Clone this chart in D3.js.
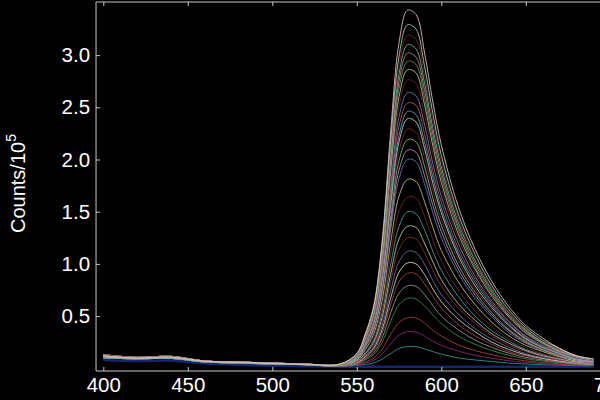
<!DOCTYPE html>
<html>
<head>
<meta charset="utf-8">
<script src="https://cdn.jsdelivr.net/npm/d3@7"></script>
<style>
    html, body { margin: 0; padding: 0; background: #000; }
</style>
</head>
<body>
<div id="spectra_chart"></div>
<script>
// wavelength (nm) of every sample
const wavelengths = [400, 420, 440, 460, 480, 500, 520, 540, 550, 555, 560, 565, 570, 575,
    580, 585, 590, 595, 600, 610, 620, 630, 640, 650, 660, 670, 680, 690];

// counts / 10^5, one row per spectrum (top peak first)
const spectra = [
    [0.12, 0.10, 0.11, 0.07, 0.06, 0.05, 0.04, 0.04, 0.14, 0.33, 0.60, 1.22, 2.26, 3.12, 3.43, 3.39, 3.03, 2.55, 2.14, 1.55, 1.14, 0.83, 0.59, 0.41, 0.29, 0.19, 0.12, 0.09],
    [0.11, 0.095, 0.10, 0.065, 0.055, 0.045, 0.035, 0.04, 0.14, 0.32, 0.58, 1.18, 2.17, 2.99, 3.29, 3.25, 2.90, 2.44, 2.04, 1.48, 1.09, 0.79, 0.56, 0.39, 0.27, 0.19, 0.12, 0.09],
    [0.13, 0.105, 0.115, 0.07, 0.06, 0.05, 0.04, 0.04, 0.13, 0.31, 0.56, 1.14, 2.10, 2.90, 3.19, 3.15, 2.81, 2.37, 1.98, 1.44, 1.05, 0.77, 0.54, 0.38, 0.26, 0.18, 0.12, 0.08],
    [0.10, 0.09, 0.095, 0.06, 0.05, 0.04, 0.035, 0.04, 0.13, 0.30, 0.55, 1.11, 2.04, 2.82, 3.10, 3.06, 2.74, 2.30, 1.93, 1.40, 1.03, 0.75, 0.53, 0.37, 0.25, 0.18, 0.11, 0.08],
    [0.12, 0.10, 0.11, 0.07, 0.06, 0.05, 0.04, 0.04, 0.13, 0.29, 0.54, 1.08, 1.99, 2.75, 3.02, 2.98, 2.67, 2.24, 1.88, 1.36, 1.00, 0.73, 0.51, 0.36, 0.25, 0.17, 0.11, 0.08],
    [0.11, 0.095, 0.10, 0.065, 0.055, 0.045, 0.035, 0.03, 0.12, 0.29, 0.52, 1.05, 1.94, 2.68, 2.94, 2.91, 2.60, 2.18, 1.83, 1.33, 0.97, 0.71, 0.50, 0.35, 0.24, 0.17, 0.11, 0.08],
    [0.13, 0.105, 0.115, 0.07, 0.06, 0.05, 0.04, 0.03, 0.12, 0.28, 0.51, 1.02, 1.89, 2.60, 2.86, 2.83, 2.53, 2.13, 1.78, 1.29, 0.95, 0.69, 0.49, 0.34, 0.24, 0.16, 0.11, 0.08],
    [0.10, 0.09, 0.095, 0.06, 0.05, 0.04, 0.035, 0.03, 0.12, 0.27, 0.49, 0.99, 1.82, 2.51, 2.76, 2.73, 2.44, 2.05, 1.72, 1.25, 0.92, 0.67, 0.47, 0.33, 0.23, 0.16, 0.10, 0.08],
    [0.12, 0.10, 0.11, 0.07, 0.06, 0.05, 0.04, 0.03, 0.11, 0.26, 0.47, 0.95, 1.74, 2.41, 2.64, 2.61, 2.34, 1.96, 1.65, 1.20, 0.88, 0.64, 0.45, 0.31, 0.22, 0.15, 0.10, 0.07],
    [0.11, 0.095, 0.10, 0.065, 0.055, 0.045, 0.035, 0.03, 0.11, 0.25, 0.45, 0.91, 1.68, 2.32, 2.54, 2.52, 2.25, 1.89, 1.59, 1.15, 0.85, 0.62, 0.44, 0.30, 0.21, 0.15, 0.10, 0.07],
    [0.13, 0.105, 0.115, 0.07, 0.06, 0.05, 0.04, 0.03, 0.11, 0.24, 0.44, 0.88, 1.62, 2.23, 2.46, 2.43, 2.17, 1.83, 1.53, 1.11, 0.82, 0.60, 0.42, 0.29, 0.20, 0.14, 0.09, 0.07],
    [0.10, 0.09, 0.095, 0.06, 0.05, 0.04, 0.035, 0.03, 0.10, 0.24, 0.43, 0.86, 1.57, 2.17, 2.39, 2.36, 2.11, 1.77, 1.49, 1.08, 0.79, 0.58, 0.41, 0.28, 0.20, 0.14, 0.09, 0.07],
    [0.12, 0.10, 0.11, 0.07, 0.06, 0.05, 0.04, 0.03, 0.10, 0.23, 0.41, 0.82, 1.51, 2.08, 2.29, 2.26, 2.02, 1.70, 1.43, 1.04, 0.76, 0.56, 0.39, 0.27, 0.19, 0.13, 0.09, 0.07],
    [0.11, 0.095, 0.10, 0.065, 0.055, 0.045, 0.035, 0.03, 0.10, 0.22, 0.39, 0.79, 1.44, 1.99, 2.19, 2.17, 1.94, 1.63, 1.37, 0.99, 0.73, 0.53, 0.37, 0.26, 0.18, 0.13, 0.09, 0.06],
    [0.13, 0.105, 0.115, 0.07, 0.06, 0.05, 0.04, 0.03, 0.09, 0.21, 0.38, 0.75, 1.38, 1.90, 2.09, 2.07, 1.85, 1.56, 1.31, 0.95, 0.70, 0.51, 0.36, 0.25, 0.18, 0.12, 0.08, 0.06],
    [0.10, 0.09, 0.095, 0.06, 0.05, 0.04, 0.035, 0.03, 0.09, 0.20, 0.36, 0.72, 1.32, 1.82, 2.00, 1.98, 1.77, 1.49, 1.25, 0.91, 0.67, 0.49, 0.34, 0.24, 0.17, 0.12, 0.08, 0.06],
    [0.12, 0.10, 0.11, 0.07, 0.06, 0.05, 0.04, 0.03, 0.08, 0.18, 0.33, 0.65, 1.20, 1.65, 1.81, 1.79, 1.60, 1.35, 1.13, 0.83, 0.61, 0.44, 0.31, 0.22, 0.16, 0.11, 0.07, 0.06],
    [0.11, 0.095, 0.10, 0.065, 0.055, 0.045, 0.035, 0.03, 0.08, 0.17, 0.30, 0.59, 1.09, 1.50, 1.64, 1.63, 1.46, 1.23, 1.03, 0.75, 0.55, 0.40, 0.28, 0.20, 0.14, 0.10, 0.07, 0.05],
    [0.13, 0.105, 0.115, 0.07, 0.06, 0.05, 0.04, 0.03, 0.07, 0.15, 0.27, 0.54, 0.99, 1.36, 1.50, 1.48, 1.33, 1.12, 0.94, 0.69, 0.50, 0.36, 0.26, 0.18, 0.13, 0.09, 0.07, 0.05],
    [0.10, 0.09, 0.095, 0.06, 0.05, 0.04, 0.035, 0.03, 0.07, 0.14, 0.25, 0.49, 0.90, 1.24, 1.36, 1.35, 1.20, 1.02, 0.85, 0.62, 0.46, 0.33, 0.24, 0.17, 0.12, 0.09, 0.06, 0.05],
    [0.12, 0.10, 0.11, 0.07, 0.06, 0.05, 0.04, 0.03, 0.06, 0.13, 0.23, 0.45, 0.83, 1.14, 1.25, 1.24, 1.11, 0.94, 0.79, 0.58, 0.43, 0.31, 0.22, 0.16, 0.11, 0.08, 0.06, 0.05],
    [0.11, 0.095, 0.10, 0.065, 0.055, 0.045, 0.035, 0.03, 0.06, 0.12, 0.21, 0.41, 0.74, 1.02, 1.12, 1.11, 1.00, 0.84, 0.71, 0.52, 0.38, 0.28, 0.20, 0.14, 0.10, 0.08, 0.05, 0.04],
    [0.13, 0.105, 0.115, 0.07, 0.06, 0.05, 0.04, 0.03, 0.055, 0.11, 0.19, 0.37, 0.67, 0.92, 1.01, 1.00, 0.90, 0.76, 0.64, 0.47, 0.35, 0.25, 0.18, 0.13, 0.095, 0.07, 0.05, 0.04],
    [0.10, 0.09, 0.095, 0.06, 0.05, 0.04, 0.035, 0.02, 0.05, 0.10, 0.17, 0.335, 0.605, 0.83, 0.91, 0.905, 0.81, 0.69, 0.58, 0.42, 0.31, 0.23, 0.16, 0.12, 0.09, 0.065, 0.05, 0.04],
    [0.12, 0.10, 0.11, 0.07, 0.06, 0.05, 0.04, 0.02, 0.047, 0.09, 0.15, 0.29, 0.53, 0.72, 0.79, 0.785, 0.71, 0.60, 0.50, 0.37, 0.27, 0.20, 0.145, 0.105, 0.08, 0.06, 0.045, 0.035],
    [0.11, 0.095, 0.10, 0.065, 0.055, 0.045, 0.035, 0.02, 0.043, 0.08, 0.13, 0.25, 0.45, 0.61, 0.67, 0.665, 0.60, 0.51, 0.43, 0.31, 0.23, 0.17, 0.125, 0.09, 0.07, 0.053, 0.04, 0.033],
    [0.13, 0.105, 0.115, 0.07, 0.06, 0.05, 0.04, 0.02, 0.036, 0.062, 0.10, 0.185, 0.325, 0.44, 0.485, 0.482, 0.435, 0.365, 0.31, 0.225, 0.17, 0.13, 0.095, 0.072, 0.055, 0.044, 0.034, 0.029],
    [0.10, 0.09, 0.095, 0.06, 0.05, 0.04, 0.035, 0.02, 0.032, 0.05, 0.076, 0.135, 0.235, 0.32, 0.35, 0.345, 0.31, 0.26, 0.22, 0.165, 0.125, 0.096, 0.073, 0.056, 0.045, 0.037, 0.03, 0.027],
    [0.12, 0.10, 0.11, 0.07, 0.06, 0.05, 0.04, 0.02, 0.027, 0.037, 0.052, 0.087, 0.14, 0.19, 0.208, 0.207, 0.187, 0.16, 0.136, 0.10, 0.08, 0.064, 0.05, 0.041, 0.034, 0.03, 0.026, 0.024],
    [0.08, 0.07, 0.075, 0.045, 0.035, 0.025, 0.02, 0.015, 0.015, 0.015, 0.015, 0.015, 0.015, 0.015, 0.015, 0.015, 0.015, 0.015, 0.015, 0.015, 0.015, 0.015, 0.015, 0.015, 0.015, 0.015, 0.015, 0.015]
];

// muted colours, many dark reds between the bright traces
const lineColors = ['#e8c4c4', '#a8d8c0', '#7a2828', '#70b8b0', '#c88888', '#5a9a5a', '#c8c49a', '#6a2424',
    '#7080c0', '#b85858', '#58b0c0', '#d0d0d0', '#802a2a', '#80c080', '#c090c0', '#6878b8',
    '#d0c070', '#702626', '#50a0a0', '#c8c8a8', '#8a3030', '#7070b0', '#e0e0c0', '#a04848',
    '#989898', '#409040', '#b04040', '#902880', '#309898', '#1c2a80'];

const xTicks = [400, 450, 500, 550, 600, 650, 700];
const yTicks = [0.5, 1.0, 1.5, 2.0, 2.5, 3.0];

const chartWidth = 600;
const chartHeight = 400;

const svg = d3.select('#spectra_chart')
    .append('svg')
    .attr('width', chartWidth)
    .attr('height', chartHeight)
    .style('background', '#000')
    .style('font-family', '"Liberation Sans", Arial, sans-serif');

const x = d3.scaleLinear().domain([400, 700]).range([103.3, 610.3]);
const y = d3.scaleLinear().domain([0, 3.5]).range([368.3, 2.9]);

const axisColor = '#c8c8c8';
const plotLeft = x(395.7);
const plotBottom = 371;
const plotTop = 2;

// spectra, baseline one first so the bright ones sit above it
const line = d3.line()
    .x((d, i) => x(wavelengths[i]))
    .y(d => y(d))
    .curve(d3.curveCatmullRom);

const order = d3.range(spectra.length).reverse();
svg.append('g')
    .selectAll('path')
    .data(order)
    .enter()
    .append('path')
        .attr('d', i => line(spectra[i]))
        .attr('fill', 'none')
        .attr('stroke', i => lineColors[i])
        .attr('stroke-width', i => i == spectra.length - 1 ? 2.5 : 1)
        .attr('stroke-opacity', 0.85);

// axes, ticks pointing inwards
const yAxis = svg.append('g')
    .attr('transform', `translate(${plotLeft},0)`)
    .call(d3.axisLeft(y).tickValues(yTicks).tickSize(-4).tickPadding(6).tickFormat(d3.format('.1f')));

const xAxis = svg.append('g')
    .attr('transform', `translate(0,${plotBottom})`)
    .call(d3.axisBottom(x).tickValues(xTicks).tickSize(-4).tickPadding(6).tickFormat(d3.format('d')));

const topAxis = svg.append('g')
    .attr('transform', `translate(0,${plotTop})`)
    .call(d3.axisTop(x).tickValues(xTicks).tickSize(-4).tickFormat(''));

[yAxis, xAxis, topAxis].forEach(g => {
    g.select('.domain').remove();
    g.selectAll('line').attr('stroke', axisColor);
    g.selectAll('text')
        .attr('fill', '#fff')
        .style('font-size', '20.5px')
        .style('font-family', '"Liberation Sans", Arial, sans-serif');
});

// frame lines
svg.append('line')
    .attr('x1', plotLeft).attr('x2', plotLeft)
    .attr('y1', plotTop).attr('y2', plotBottom)
    .attr('stroke', axisColor);
svg.append('line')
    .attr('x1', plotLeft).attr('x2', chartWidth)
    .attr('y1', plotBottom).attr('y2', plotBottom)
    .attr('stroke', axisColor);
svg.append('line')
    .attr('x1', plotLeft).attr('x2', chartWidth)
    .attr('y1', plotTop).attr('y2', plotTop)
    .attr('stroke', axisColor);

// y label with superscript
const yLabel = svg.append('text')
    .attr('transform', 'translate(24.5,233) rotate(-90)')
    .attr('fill', '#fff')
    .style('font-size', '20px');
yLabel.append('tspan').text('Counts/10');
yLabel.append('tspan')
    .attr('dy', -9)
    .style('font-size', '14px')
    .text('5');
</script>
</body>
</html>
